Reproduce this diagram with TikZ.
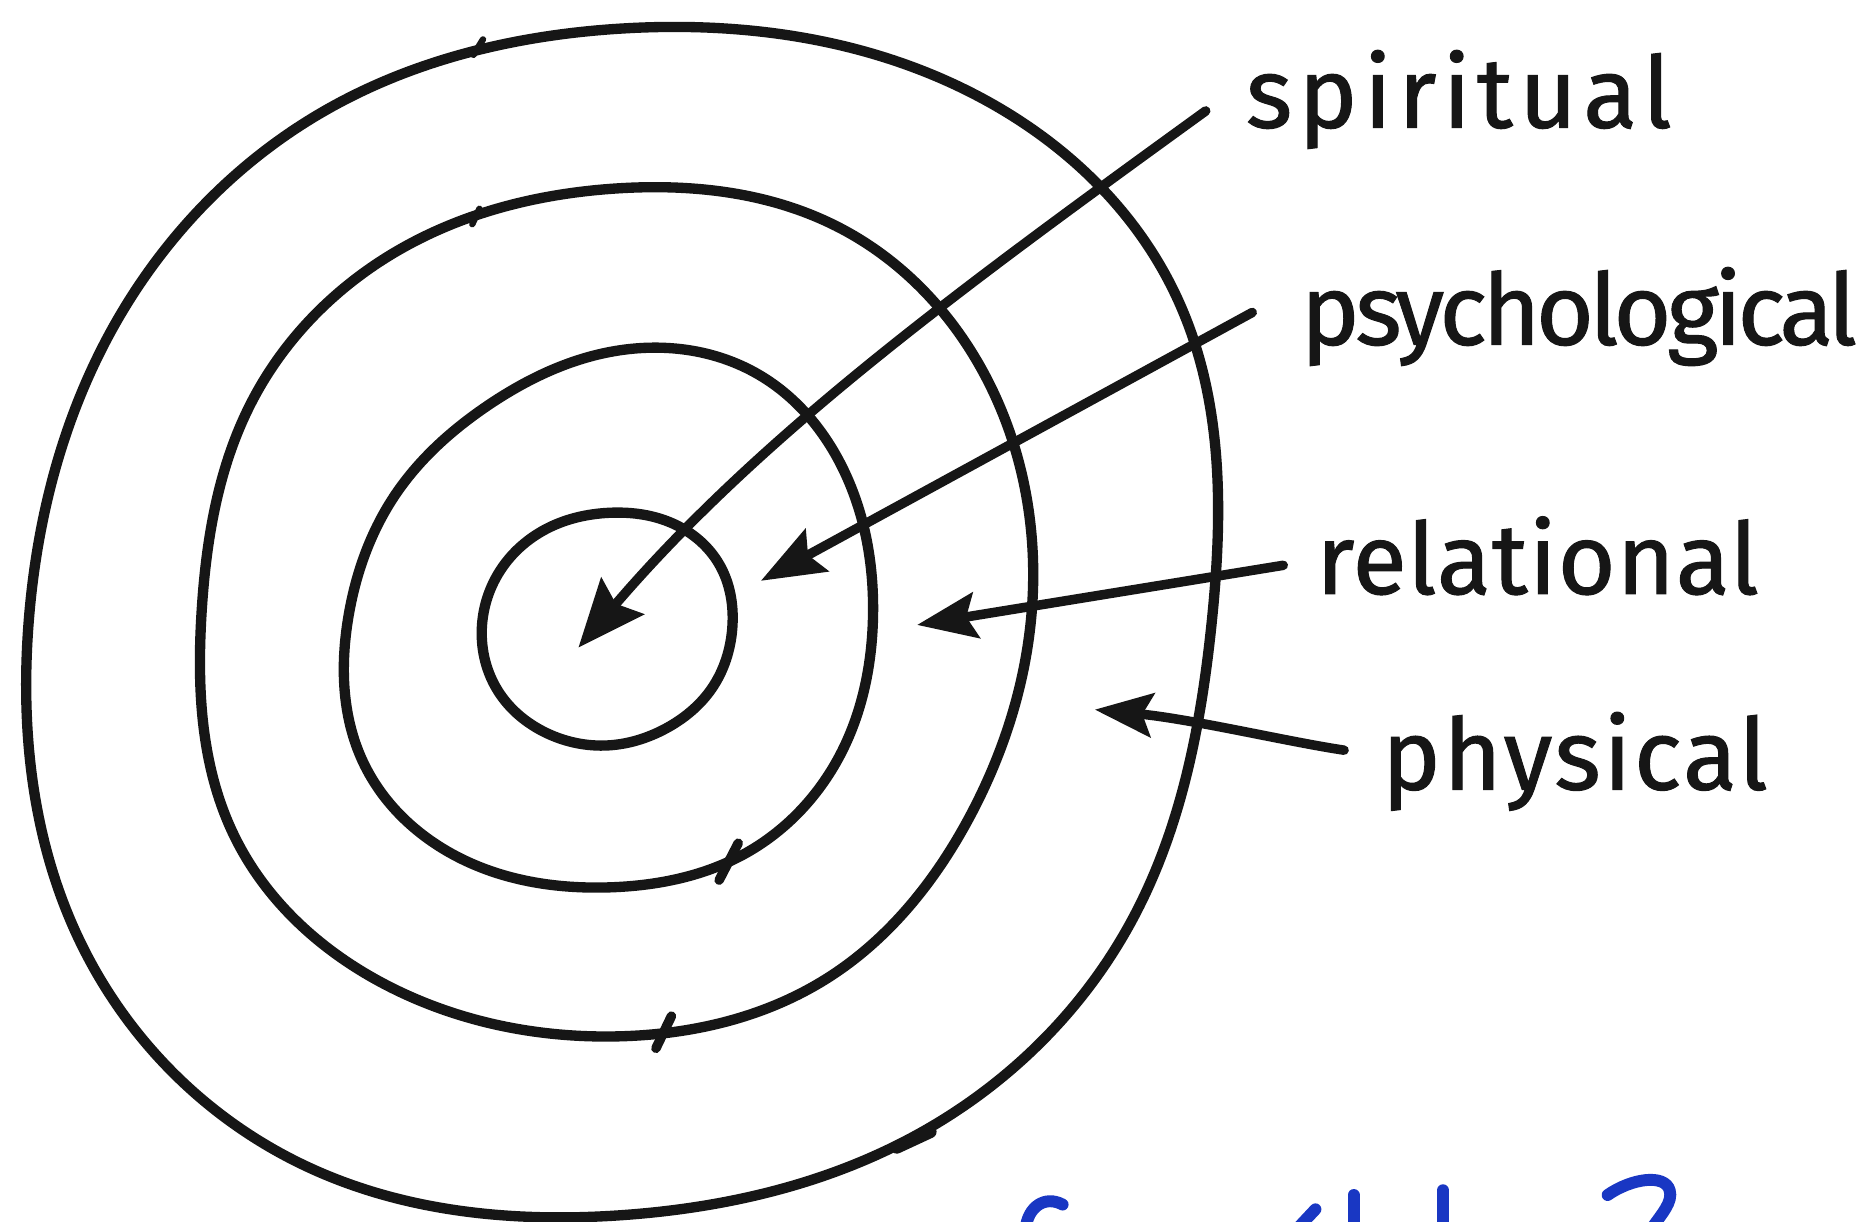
\documentclass[tikz,border=0pt]{standalone}
\usepackage{fontspec}
\setmainfont{Fira Sans}
\usetikzlibrary{arrows.meta,hobby}
\definecolor{ink}{RGB}{22,22,22}
\definecolor{bluepen}{RGB}{25,55,195}
\begin{document}
\begin{tikzpicture}[x=0.3pt,y=-0.3pt,
  ring/.style={draw=ink,line width=2.6pt,line cap=round,line join=round,use Hobby shortcut,closed=true},
  penjoin/.style={draw=ink,line width=2.4pt,line cap=round},
  pointer/.style={draw=ink,line width=2.4pt,line cap=round},
  lbl/.style={anchor=base west,inner sep=0pt,text=ink,font=\fontsize{25}{30}\selectfont},
  bluestroke/.style={draw=bluepen,line width=3pt,line cap=round}]
\useasboundingbox (0,0) rectangle (1568,1024);
\fill[white] (0,0) rectangle (1568,1024);
\clip (0,0) rectangle (1568,1024);

% rings (points every 30 degrees round each centre)
\draw[ring] (1016,522) .. (950,770) .. (768,952) .. (520,1019) .. (257,978) .. (65,785)
 .. (24,522) .. (94,276) .. (272,93) .. (520,24) .. (785,64) .. (988,252);
\draw[ring] (865,514) .. (813,685) .. (694,820) .. (517,869) .. (334,831) .. (196,700)
 .. (169,514) .. (211,337) .. (339,207) .. (517,158) .. (704,191) .. (834,331);
\draw[ring] (732,518) .. (706,630) .. (626,715) .. (512,744) .. (393,723) .. (304,638)
 .. (292,518) .. (332,414) .. (409,340) .. (512,295) .. (636,314) .. (711,402);
\draw[ring] (614,527) .. (597,577) .. (558,611) .. (510,625) .. (459,615) .. (418,580)
 .. (404,527) .. (421,476) .. (461,442) .. (510,430) .. (562,438) .. (603,473);

% small pen joins on the rings
\draw[penjoin] (603,738) -- (619,707);
\draw[penjoin] (550,879) -- (563,852);
\draw[penjoin,line width=3.2pt] (752,962) -- (780,949);
\draw[penjoin,line width=1.6pt] (397,46) -- (405,33);
\draw[penjoin,line width=1.6pt] (396,188) -- (402,175);

% labels
\node[lbl] (spiritual) at (1044,107) {\addfontfeatures{LetterSpace=6.3,FakeBold=1}spiritual};
\node[lbl] (psych) at (1090,289) {\addfontfeatures{LetterSpace=-4.6,FakeBold=1}psychological};
\node[lbl] (relational) at (1103,498) {\addfontfeatures{LetterSpace=0.9,FakeBold=1}relational};
\node[lbl] (physical) at (1158,662) {\addfontfeatures{LetterSpace=2.6,FakeBold=1}physical};

% connector ends
\coordinate (spstart) at (1011,93);
\coordinate (sptip) at (485,543);
\coordinate (psstart) at (1050,262);
\coordinate (pstip) at (638,487);
\coordinate (restart) at (1076,474);
\coordinate (retip) at (769,524);
\coordinate (phstart) at (1127,629);
\coordinate (phtip) at (918,595);

% arrows
\draw[pointer,-{Stealth[length=17pt,width=14pt,inset=2.5pt]}] (spstart) .. controls (811,238) and (640,362) .. (sptip);
\draw[pointer,-{Stealth[length=16pt,width=12pt,inset=2.5pt]}] (psstart) -- (pstip);
\draw[pointer,-{Stealth[length=15pt,width=11.5pt,inset=2.5pt]}] (restart) -- (retip);
\draw[pointer,-{Stealth[length=14.5pt,width=11pt,inset=2.5pt]}] (phstart) .. controls (1080,622) and (1000,603) .. (phtip);

% blue pen marks cut off at the bottom edge
\draw[bluestroke] (860,1030) .. controls (862,1012) and (876,1002) .. (891,1010);
\draw[bluestroke] (1103,1014) -- (1088,1030);
\draw[bluestroke] (1135,1002) -- (1135,1030);
\draw[bluestroke] (1210,998) -- (1210,1030);
\draw[bluestroke] (1348,1002) .. controls (1368,988) and (1396,984) .. (1400,998) .. controls (1403,1008) and (1393,1018) .. (1385,1030);
\end{tikzpicture}
\end{document}
